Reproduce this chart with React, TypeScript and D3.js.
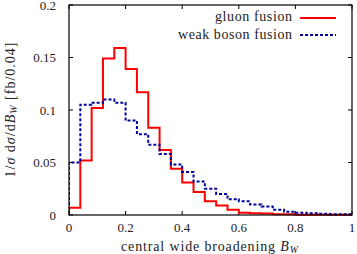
import React from "react";
import * as d3 from "d3";

// bin edges: 25 bins of 0.04 from 0 to 1
const binWidth = 0.04;
const gluonFusion = [
  0.007, 0.052, 0.102, 0.149, 0.159, 0.139, 0.117, 0.083, 0.062, 0.044,
  0.031, 0.022, 0.013, 0.009, 0.005, 0.0022, 0.0016, 0.0015, 0.0008, 0.0007,
  0.0003, 0.0003, 0.0003, 0.0003, 0.0003,
];
const weakBosonFusion = [
  0.05, 0.105, 0.107, 0.11, 0.107, 0.09, 0.077, 0.067, 0.058, 0.048,
  0.041, 0.032, 0.025, 0.02, 0.015, 0.013, 0.01, 0.008, 0.005, 0.0032,
  0.0022, 0.0016, 0.0011, 0.0008, 0.0006,
];
const xTicks = [0, 0.2, 0.4, 0.6, 0.8, 1];
const yTicks = [0, 0.05, 0.1, 0.15, 0.2];

const W = 357;
const H = 254;
const margin = { top: 5, right: 5, bottom: 39, left: 69 };
const font = "'Liberation Serif', 'DejaVu Serif', serif";

const fmt = (v: number) => (v === 0 ? "0" : v === 1 ? "1" : String(v));

export default function App() {
  const x = d3.scaleLinear().domain([0, 1]).range([margin.left, W - margin.right]);
  const y = d3.scaleLinear().domain([0, 0.2]).range([H - margin.bottom, margin.top]);

  const stepPath = (vals: number[]) => {
    const pts: [number, number][] = [[0, 0]];
    vals.forEach((v, i) => pts.push([i * binWidth, v]));
    pts.push([vals.length * binWidth, vals[vals.length - 1]]);
    pts.push([vals.length * binWidth, 0]);
    const line = d3
      .line<[number, number]>()
      .x((d) => x(d[0]))
      .y((d) => y(d[1]))
      .curve(d3.curveStepAfter);
    return line(pts) || "";
  };

  const x0 = x(0), x1 = x(1), y0 = y(0), y1 = y(0.2);
  const tick = 4;

  return (
    <svg
      width={W}
      height={H}
      style={{ position: "absolute", left: 0, top: 0, background: "#fff" }}
      fontFamily={font}
    >
      <defs>
        <clipPath id="plot">
          <rect x={x0} y={y1 - 2} width={x1 - x0} height={y0 - y1 + 4} />
        </clipPath>
      </defs>

      {/* ticks */}
      {xTicks.map((t) => (
        <g key={"x" + t}>
          <line x1={x(t)} x2={x(t)} y1={y0} y2={y0 - tick} stroke="#000" />
          <line x1={x(t)} x2={x(t)} y1={y1} y2={y1 + tick} stroke="#000" />
          <text x={x(t)} y={y0 + 17} textAnchor="middle" fontSize={13} fill="#222">
            {fmt(t)}
          </text>
        </g>
      ))}
      {yTicks.map((t) => (
        <g key={"y" + t}>
          <line x1={x0} x2={x0 + tick} y1={y(t)} y2={y(t)} stroke="#000" />
          <line x1={x1} x2={x1 - tick} y1={y(t)} y2={y(t)} stroke="#000" />
          <text x={x0 - 13} y={y(t) + 4.8} textAnchor="end" fontSize={13} fill="#222">
            {fmt(t)}
          </text>
        </g>
      ))}

      <g clipPath="url(#plot)">
        <path d={stepPath(gluonFusion)} fill="none" stroke="#ff0000" strokeWidth={2} />
        <path
          d={stepPath(weakBosonFusion)}
          fill="none"
          stroke="#00009c"
          strokeWidth={2}
          strokeDasharray="3,2"
        />
      </g>

      <rect x={x0} y={y1} width={x1 - x0} height={y0 - y1} fill="none" stroke="#000" strokeWidth={1.2} />

      {/* legend */}
      <text x={292} y={21} textAnchor="end" fontSize={14} fill="#222" textLength={77} lengthAdjust="spacing">
        gluon fusion
      </text>
      <line x1={300} x2={336} y1={18} y2={18} stroke="#ff0000" strokeWidth={2} />
      <text x={292} y={38.5} textAnchor="end" fontSize={14} fill="#222" textLength={114} lengthAdjust="spacing">
        weak boson fusion
      </text>
      <line x1={300} x2={336} y1={35} y2={35} stroke="#00009c" strokeWidth={2} strokeDasharray="3,2" />

      {/* axis titles */}
      <text x={(x0 + x1) / 2 - 1} y={251} textAnchor="middle" fontSize={14} fill="#222" textLength={177} lengthAdjust="spacing">
        central wide broadening <tspan fontStyle="italic">B</tspan>
        <tspan fontStyle="italic" fontSize={10} dy={2}>W</tspan>
      </text>
      <text
        transform={`translate(15,${(y0 + y1) / 2}) rotate(-90)`}
        textAnchor="middle"
        fontSize={14}
        fill="#222"
        textLength={135}
        lengthAdjust="spacing"
      >
        1/<tspan fontStyle="italic">σ</tspan> d<tspan fontStyle="italic">σ</tspan>/d
        <tspan fontStyle="italic">B</tspan>
        <tspan fontStyle="italic" fontSize={10} dy={2}>W</tspan>
        <tspan dy={-2}> [fb/0.04]</tspan>
      </text>
    </svg>
  );
}
